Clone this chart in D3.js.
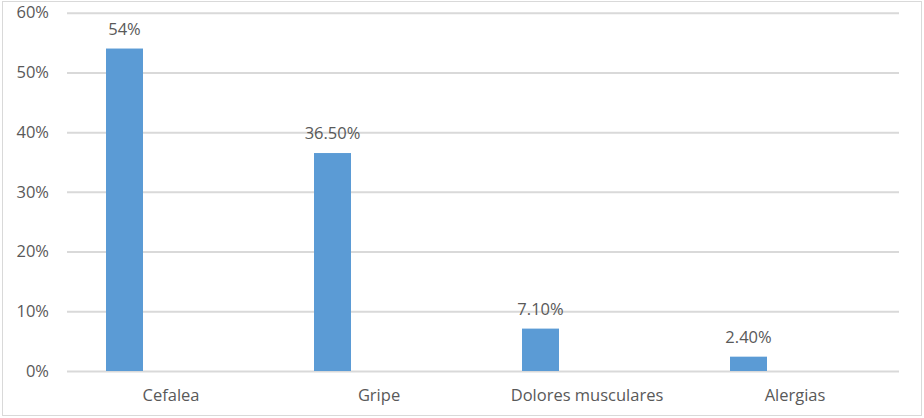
<!DOCTYPE html>
<html><head><meta charset="utf-8">
<script src="https://cdn.jsdelivr.net/npm/d3@7"></script>
<style>body{margin:0;background:#fff}svg{display:block}text{font-family:"Open Sans",sans-serif;fill:#595959}</style>
</head><body><svg id="c" width="924" height="418"></svg>
<script>
const categories = ["Cefalea", "Gripe", "Dolores musculares", "Alergias"];
const values = [54, 36.5, 7.1, 2.4];
const valueLabels = ["54%", "36.50%", "7.10%", "2.40%"];
const yTicks = [0, 10, 20, 30, 40, 50, 60];

const svg = d3.select("#c");
const W = 924, H = 418;
const m = {left: 67, right: 25, top: 12.7, bottom: 47};
const x = d3.scaleBand().domain(categories).range([m.left, W - m.right]).padding(0);
const y = d3.scaleLinear().domain([0, 60]).range([H - m.bottom, m.top]);

svg.append("rect").attr("x", 2.5).attr("y", 1.5).attr("width", W - 5).attr("height", H - 4)
  .attr("fill", "#fff").attr("stroke", "#d9d9d9").attr("stroke-width", 1);

const yAxis = d3.axisLeft(y).tickValues(yTicks).tickFormat(d => d + "%")
  .tickSize(-(W - m.left - m.right)).tickPadding(18);
const ga = svg.append("g").attr("transform", `translate(${m.left},0)`).call(yAxis);
ga.select(".domain").remove();
ga.selectAll(".tick line").attr("stroke", "#d9d9d9").attr("stroke-width", 2);
ga.selectAll(".tick text").attr("font-size", 16.5).attr("fill", "#595959")
  .attr("font-family", "'Open Sans', sans-serif");

const barOff = 39 / 208, barW = 37 / 208;
svg.append("g").selectAll("rect").data(categories).join("rect")
  .attr("x", (d) => x(d) + x.bandwidth() * barOff)
  .attr("width", x.bandwidth() * barW)
  .attr("y", (d, i) => y(values[i]))
  .attr("height", (d, i) => y(0) - y(values[i]))
  .attr("fill", "#5b9bd5");

svg.append("g").selectAll("text").data(categories).join("text")
  .attr("x", (d) => x(d) + x.bandwidth() * (barOff + barW / 2))
  .attr("y", (d, i) => y(values[i]) - 14)
  .attr("text-anchor", "middle").attr("font-size", 16.5)
  .text((d, i) => valueLabels[i]);

const xAxis = d3.axisBottom(x).tickSize(0).tickPadding(0);
const gx = svg.append("g").attr("transform", `translate(0,${y(0)})`).call(xAxis);
gx.select(".domain").remove();
gx.selectAll(".tick text").attr("font-size", 16.5).attr("fill", "#595959")
  .attr("font-family", "'Open Sans', sans-serif").attr("dy", 0).attr("y", 30);
</script></body></html>
